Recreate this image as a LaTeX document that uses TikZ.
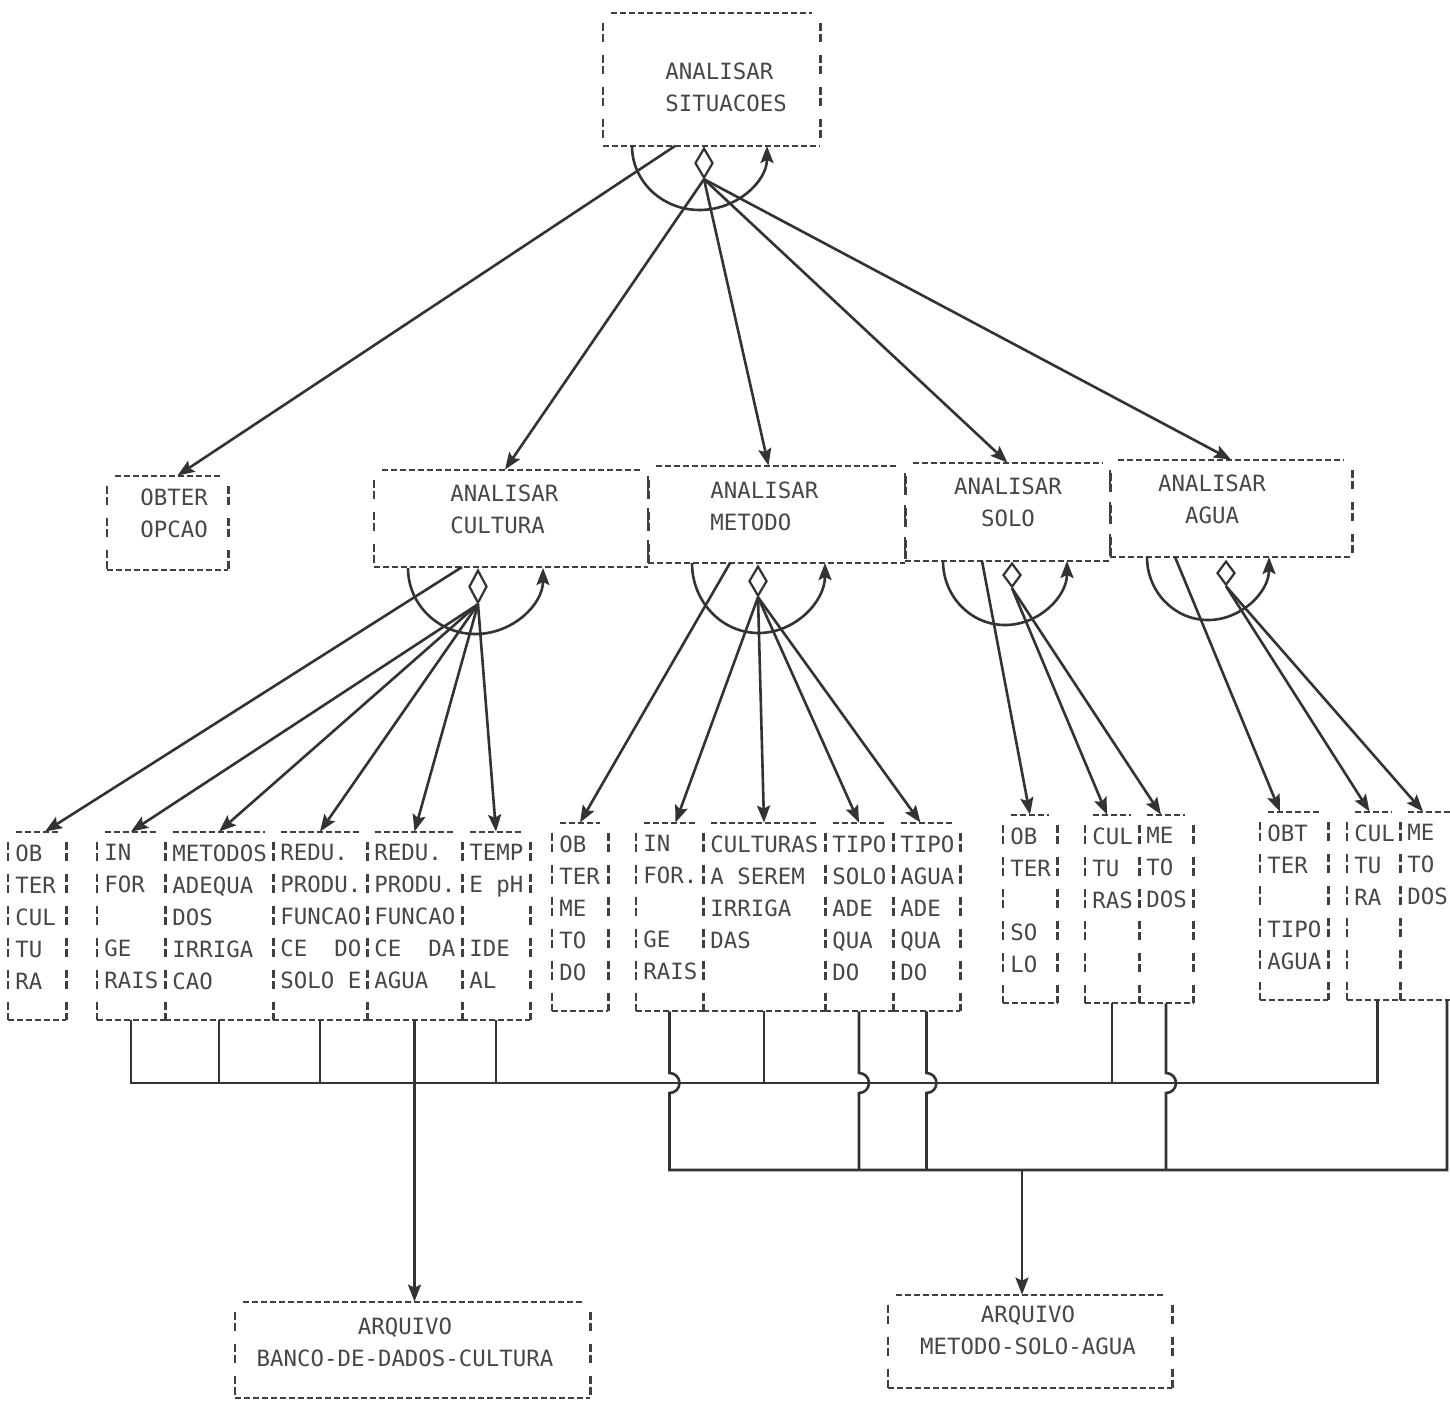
\documentclass[tikz,border=0pt]{standalone}
\usepackage{fontspec}
\setmonofont{DejaVu Sans Mono}
\usetikzlibrary{arrows.meta,shapes.geometric,fit}
\newcommand\mybox[5]{%
  \node[boxn, fit={(#2,#3) (#4,#5)}] (#1) {};
  \draw[hline] ([xshift=4pt]#1.north west) -- ([xshift=-4pt]#1.north east);
  \draw[hline] (#1.south west) -- (#1.south east);
  \draw[vline] ([yshift=-5pt]#1.north west) -- (#1.south west);
  \draw[vline] ([yshift=-5pt]#1.north east) -- (#1.south east);}
% leaf: name, left, right, first row y, text
\newcommand\leaf[5]{%
  \mybox{#1}{#2}{#4-20}{#3}{#4+168}
  \node[txt] (#1t) at ({#2+7},{#4-8}) {#5};}
\begin{document}
\begin{tikzpicture}[x=0.5pt,y=-0.5pt,
  conn/.style={draw=black!80, line width=1.3pt},
  arr/.style={conn,-{Stealth[length=8.5pt,width=6.5pt,inset=1.5pt]}},
  hline/.style={draw=black!75, line width=1pt, dash pattern=on 3pt off 1.5pt},
  vline/.style={draw=black!75, line width=1.1pt, dash pattern=on 4pt off 1.5pt on 4pt off 6.5pt},
  boxn/.style={rectangle, inner sep=0pt, draw=none},
  txt/.style={inner sep=0pt, anchor=north west, align=left, text=black!72,
    font=\fontsize{11.2pt}{16pt}\selectfont\ttfamily},
  ctxt/.style={txt, anchor=north, align=center},
  dmd/.style={diamond, draw=black!80, line width=1.1pt, inner sep=0pt,
    minimum width=9pt, minimum height=15pt, anchor=north},
]
\useasboundingbox (0,0) rectangle (1450,1404);
\fill[white] (0,0) rectangle (1450,1404);
\clip (0,0) rectangle (1450,1404);

% ---------- top box ----------
\mybox{top}{603}{13}{820}{146}
\node[txt] (topt) at (665,62) {ANALISAR\\SITUACOES};

% ---------- second level ----------
\mybox{opc}{107}{476}{228}{570}
\node[txt] (opct) at (140,488) {OBTER\\OPCAO};
\mybox{cul}{374}{470}{648}{567}
\node[txt] (cult) at (450,484) {ANALISAR\\CULTURA};
\mybox{met}{648}{466}{905}{563}
\node[txt] (mett) at (710,481) {ANALISAR\\METODO};
\mybox{sol}{905}{463}{1110}{561}
\node[ctxt] (solt) at (1008,477) {ANALISAR\\SOLO};
\mybox{agu}{1110}{460}{1352}{557}
\node[ctxt] (agut) at (1212,474) {ANALISAR\\AGUA};

% ---------- leaves ----------
\leaf{A}{8}{66}{852}{OB\\TER\\CUL\\TU\\RA}
\leaf{B}{97}{165}{852}{IN\\FOR\\\mbox{}\\GE\\RAIS}
\leaf{C}{165}{273}{852}{METODOS\\ADEQUA\\DOS\\IRRIGA\\CAO}
\leaf{D}{273}{367}{852}{REDU.\\PRODU.\\FUNCAO\\CE\ \ DO\\SOLO E}
\leaf{E}{367}{462}{852}{REDU.\\PRODU.\\FUNCAO\\CE\ \ DA\\AGUA}
\leaf{F}{462}{530}{852}{TEMP\\E pH\\\mbox{}\\IDE\\AL}

\leaf{G}{552}{608}{843}{OB\\TER\\ME\\TO\\DO}
\leaf{H}{636}{703}{843}{IN\\FOR.\\\mbox{}\\GE\\RAIS}
\leaf{I}{703}{825}{843}{CULTURAS\\A SEREM\\IRRIGA\\DAS}
\leaf{J}{825}{893}{843}{TIPO\\SOLO\\ADE\\QUA\\DO}
\leaf{K}{893}{960}{843}{TIPO\\AGUA\\ADE\\QUA\\DO}

\leaf{L}{1003}{1057}{835}{OB\\TER\\\mbox{}\\SO\\LO}
\leaf{M}{1085}{1139}{835}{CUL\\TU\\RAS}
\leaf{N}{1139}{1193}{835}{ME\\TO\\DOS}

\leaf{O}{1260}{1328}{832}{OBT\\TER\\\mbox{}\\TIPO\\AGUA}
\leaf{P}{1347}{1400}{832}{CUL\\TU\\RA}
\leaf{Q}{1400}{1470}{832}{ME\\TO\\DOS}

% ---------- files ----------
\mybox{arq1}{235}{1302}{590}{1398}
\node[ctxt] (arq1t) at (405,1317) {ARQUIVO\\BANCO-DE-DADOS-CULTURA};
\mybox{arq2}{888}{1295}{1172}{1388}
\node[ctxt] (arq2t) at (1028,1305) {ARQUIVO\\METODO-SOLO-AGUA};

% ---------- diamonds, arcs ----------
\node[dmd] (d0) at (704,147) {};
\node[dmd, minimum height=16.5pt] (d1) at (478,569) {};
\node[dmd] (d2) at (758,565) {};
\node[dmd, minimum height=12pt] (d3) at (1012,562) {};
\node[dmd, minimum height=12pt] (d4) at (1226,560) {};

\coordinate (a0) at (632,146);
\coordinate (a1) at (408,568);
\coordinate (a2) at (692,563);
\coordinate (a3) at (943,561);
\coordinate (a4) at (1147,557);
\draw[arr] (a0) arc[start angle=180, end angle=360, x radius=33.75pt, y radius=32pt];
\draw[arr] (a1) arc[start angle=180, end angle=360, x radius=33.75pt, y radius=33pt];
\draw[arr] (a2) arc[start angle=180, end angle=360, x radius=33.25pt, y radius=35pt];
\draw[arr] (a3) arc[start angle=180, end angle=360, x radius=31pt, y radius=32pt];
\draw[arr] (a4) arc[start angle=180, end angle=360, x radius=30.5pt, y radius=31.5pt];

% ---------- calls ----------
\coordinate (s0) at (675,146);
\coordinate (s1) at (462,567);
\coordinate (s2) at (730,563);
\coordinate (s3) at (982,561);
\coordinate (s4) at (1175,557);

\draw[arr] (s0) -- ([xshift=5pt]opc.north);
\draw[arr] (d0.south) -- ([xshift=-3pt]cul.north);
\draw[arr] (d0.south) -- ([xshift=-4pt]met.north);
\draw[arr] (d0.south) -- (sol.north);
\draw[arr] (d0.south) -- (agu.north);

\draw[arr] (s1) -- ([xshift=4pt]A.north);
\foreach \n in {B,C,D,E,F} \draw[arr] (d1.south) -- (\n.north);

\draw[arr] (s2) -- (G.north);
\draw[arr] (d2.south) -- ([xshift=3pt]H.north);
\foreach \n in {I,J} \draw[arr] (d2.south) -- (\n.north);
\draw[arr] (d2.south) -- ([xshift=-3pt]K.north);

\draw[arr] (s3) -- (L.north);
\foreach \n in {M,N} \draw[arr] (d3.south) -- ([xshift=-2.5pt]\n.north);

\draw[arr] (s4) -- ([xshift=-7pt]O.north);
\draw[arr] (d4.south) -- ([xshift=-2pt]P.north);
\draw[arr] (d4.south) -- ([xshift=-6pt]Q.north);

% ---------- buses ----------
\coordinate (bus1) at (0,1083);
\coordinate (hopy) at (0,1073);
\coordinate (bus2) at (0,1170);

\draw[conn] (B.south) |- ([xshift=2pt]P.south |- bus1) -- ([xshift=2pt]P.south);
\foreach \n in {C,D,F,I,M} \draw[conn] (\n.south) -- (\n.south |- bus1);
\draw[arr] (E.south) -- (E.south |- arq1.north);

\draw[conn] (H.south) -- (H.south |- hopy) arc[start angle=90, end angle=-90, radius=5pt]
  -- (H.south |- bus2) -- ([xshift=6pt]Q.south |- bus2) -- ([xshift=6pt]Q.south);
\foreach \n in {J,K,N}
  \draw[conn] (\n.south) -- (\n.south |- hopy) arc[start angle=90, end angle=-90, radius=5pt]
    -- (\n.south |- bus2);
\draw[arr] ([xshift=-4pt]arq2.north |- bus2) -- ([xshift=-4pt]arq2.north);
\end{tikzpicture}
\end{document}
